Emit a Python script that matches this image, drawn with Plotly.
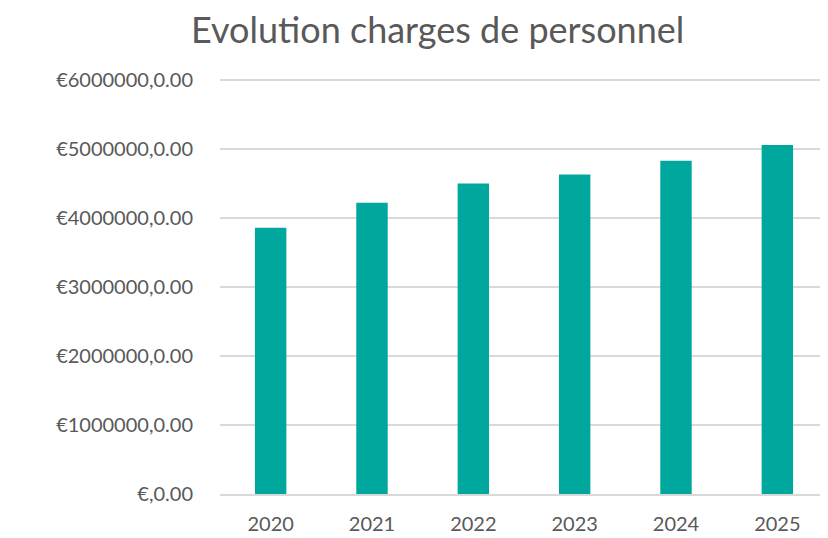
import plotly.graph_objects as go

annees = ["2020", "2021", "2022", "2023", "2024", "2025"]
charges = [3860000, 4220000, 4500000, 4630000, 4830000, 5060000]
y_ticks = [0, 1000000, 2000000, 3000000, 4000000, 5000000, 6000000]
y_labels = ["€,0.00", "€1000000,0.00", "€2000000,0.00", "€3000000,0.00",
            "€4000000,0.00", "€5000000,0.00", "€6000000,0.00"]

gris = "#595959"

fig = go.Figure()
fig.add_trace(go.Bar(x=annees, y=charges, marker_color="#00A79D",
                     marker_line_width=0, width=0.31))

# la page a une marge de 8px, on reduit la figure d'autant
fig.update_layout(
    width=820, height=530,
    margin=dict(l=212, r=0, t=71, b=44),
    plot_bgcolor="white", paper_bgcolor="white",
    font=dict(family="Lato", color=gris, size=20),
    title=dict(text="Evolution charges de personnel", x=0.524, xanchor="center",
               y=0.958, yanchor="middle", font=dict(size=36, color=gris)),
    showlegend=False,
)
fig.update_yaxes(range=[0, 6015000], tickvals=y_ticks, ticktext=y_labels,
                 showgrid=True, gridcolor="#D9D9D9", gridwidth=1.5,
                 zeroline=False, ticklabelstandoff=26)
fig.update_xaxes(showline=True, linecolor="#D9D9D9", linewidth=1.5,
                 ticklabelstandoff=11)

fig.write_html("out.html")
